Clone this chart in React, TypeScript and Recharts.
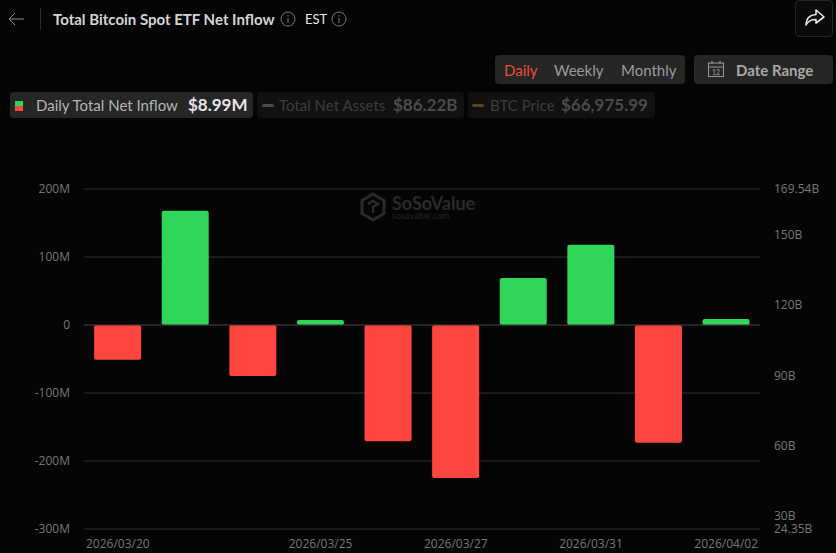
import { BarChart, Bar, Cell, XAxis, YAxis, CartesianGrid, ReferenceLine } from 'recharts';

const dates = [
  '2026/03/20', '2026/03/23', '2026/03/24', '2026/03/25', '2026/03/26',
  '2026/03/27', '2026/03/30', '2026/03/31', '2026/04/01', '2026/04/02',
];
const netInflow = [-51, 168, -75, 7.5, -171, -225, 69, 118, -173, 8.99];
const dateTicks = ['2026/03/20', '2026/03/25', '2026/03/27', '2026/03/31', '2026/04/02'];
const leftTicks = [-300, -200, -100, 0, 100, 200];
const rightTicks = [24.35, 30, 60, 90, 120, 150, 169.54];

const GREEN = '#2fd65a';
const RED = '#ff453f';
const FONT = 'Lato, "Open Sans", sans-serif';

const chartData = dates.map((d, i) => ({ date: d, inflow: netInflow[i] }));

const axisTick = { fill: '#77777a', fontSize: 12, fontFamily: '"Open Sans", sans-serif' };

function Info({ x, y }: { x: number; y: number }) {
  return (
    <svg width={16} height={16} viewBox="0 0 16 16" style={{ position: 'absolute', left: x, top: y }}>
      <circle cx={8} cy={8} r={7} fill="none" stroke="#77777a" strokeWidth={1} />
      <path d="M8 7v5M8 4.2v1.4" stroke="#77777a" strokeWidth={1} />
    </svg>
  );
}

function Label({ x, y, size, color, weight, children }: any) {
  return (
    <div style={{ position: 'absolute', left: x, top: y, fontSize: size, lineHeight: '20px', color, fontWeight: weight || 400, whiteSpace: 'nowrap' }}>
      {children}
    </div>
  );
}

function Box({ x, y, w, h, bg, border }: any) {
  return <div style={{ position: 'absolute', left: x, top: y, width: w, height: h, background: bg, borderRadius: 4, border: border, boxSizing: 'border-box' }} />;
}

export default function App() {
  return (
    <div style={{ position: 'absolute', left: 0, top: 0, width: 836, height: 553, background: '#050505', overflow: 'hidden', fontFamily: FONT }}>
      {/* header */}
      <svg width={20} height={16} style={{ position: 'absolute', left: 8, top: 11 }}>
        <path d="M16 8H1M7 2L1 8l6 6" fill="none" stroke="#8a8a8a" strokeWidth={1} />
      </svg>
      <div style={{ position: 'absolute', left: 40, top: 8, width: 1, height: 22, background: '#2a2a2a' }} />
      <Label x={53} y={9} size={15} color="#d4d4d6" weight={700}>Total Bitcoin Spot ETF Net Inflow</Label>
      <Info x={280} y={11} />
      <Label x={305} y={9} size={13} color="#e8e8e8">EST</Label>
      <Info x={331} y={11} />

      <Box x={795} y={0} w={38} h={37} bg="#0a0a0a" border="1px solid #262626" />
      <svg width={22} height={18} viewBox="0 0 22 18" style={{ position: 'absolute', left: 804, top: 9 }}>
        <path d="M12 1l8 7-8 6v-3.5C7 10.5 4 12 2 16c0-6 3-10 10-10.500z" fill="none" stroke="#e8e8e8" strokeWidth={1.6} strokeLinejoin="round" />
      </svg>

      {/* period + date range */}
      <Box x={495} y={55} w={190} h={29} bg="#262626" />
      <Label x={504} y={60} size={15} color="#ee4b35">Daily</Label>
      <Label x={554} y={60} size={15} color="#9a9a9c">Weekly</Label>
      <Label x={621} y={60} size={15} color="#9a9a9c">Monthly</Label>
      <Box x={694} y={55} w={139} h={29} bg="#262626" />
      <svg width={18} height={18} viewBox="0 0 18 18" style={{ position: 'absolute', left: 707, top: 60 }}>
        <rect x={1.500} y={3} width={15} height={13.500} fill="none" stroke="#9a9a9c" />
        <path d="M1.500 7h15M5 1v3M13 1v3" stroke="#9a9a9c" />
        <text x={9} y={14.500} fontSize={7} fill="#9a9a9c" textAnchor="middle">12</text>
      </svg>
      <Label x={736} y={60} size={15} color="#a8a8aa" weight={700}>Date Range</Label>

      {/* legend pills */}
      <Box x={10} y={92} w={243} h={26} bg="#262626" />
      <div style={{ position: 'absolute', left: 15, top: 101, width: 8, height: 5, background: GREEN }} />
      <div style={{ position: 'absolute', left: 15, top: 106, width: 8, height: 5, background: RED }} />
      <Label x={36} y={95} size={15} color="#b4b4b6">Daily Total Net Inflow</Label>
      <Label x={188} y={95} size={17} color="#e4e4e6" weight={700}>$8.99M</Label>

      <Box x={257} y={92} w={207} h={26} bg="#111111" />
      <div style={{ position: 'absolute', left: 262, top: 104, width: 12, height: 3, borderRadius: 2, background: '#4a4a4a' }} />
      <Label x={279} y={95} size={15} color="#3d3d3e">Total Net Assets</Label>
      <Label x={393} y={95} size={17} color="#4a4a4b" weight={700}>$86.22B</Label>

      <Box x={468} y={92} w={187} h={26} bg="#111111" />
      <div style={{ position: 'absolute', left: 472, top: 104, width: 12, height: 3, borderRadius: 2, background: '#5a4514' }} />
      <Label x={490} y={95} size={15} color="#3d3d3e">BTC Price</Label>
      <Label x={561} y={95} size={17} color="#4a4a4b" weight={700}>$66,975.99</Label>

      {/* watermark */}
      <svg width={28} height={30} viewBox="0 0 28 30" style={{ position: 'absolute', left: 359, top: 192 }}>
        <path d="M14 2l11 6.500v13L14 28 3 21.500v-13z" fill="none" stroke="#2a2a2a" strokeWidth={3} />
        <path d="M9 12l5-3 5 3-5 3v6" fill="none" stroke="#2a2a2a" strokeWidth={2.500} />
      </svg>
      <Label x={392} y={193} size={18} color="#2a2a2a" weight={700}>SoSoValue</Label>
      <Label x={392} y={206} size={9} color="#262626">sosovalue.com</Label>

      <div style={{ position: 'absolute', left: 0, top: 0 }}>
        <BarChart width={836} height={553} data={chartData} margin={{ top: 189, right: 0, bottom: 0, left: 0 }} barCategoryGap="15%">
          <CartesianGrid yAxisId="left" horizontal vertical={false} stroke="#333333" />
          <XAxis
            dataKey="date"
            ticks={dateTicks}
            interval={0}
            height={24}
            axisLine={false}
            tickLine={false}
            tick={axisTick}
            tickMargin={4}
          />
          <YAxis
            yAxisId="left"
            width={84}
            domain={[-300, 200]}
            ticks={leftTicks}
            axisLine={false}
            tickLine={false}
            tick={axisTick}
            tickMargin={8}
            tickFormatter={(v: number) => (v === 0 ? '0' : `${v}M`)}
          />
          <YAxis
            yAxisId="right"
            orientation="right"
            width={76}
            type="number"
            domain={[24.35, 169.54]}
            ticks={rightTicks}
            interval={0}
            allowDataOverflow
            axisLine={false}
            tickLine={false}
            tick={axisTick}
            tickMargin={8}
            tickFormatter={(v: number) => `${v}B`}
          />
          <ReferenceLine yAxisId="left" y={0} stroke="#333333" />
          <Bar yAxisId="left" dataKey="inflow" name="Daily Total Net Inflow" isAnimationActive={false} radius={2}>
            {chartData.map((d) => (
              <Cell key={d.date} fill={d.inflow >= 0 ? GREEN : RED} />
            ))}
          </Bar>
        </BarChart>
      </div>
    </div>
  );
}
